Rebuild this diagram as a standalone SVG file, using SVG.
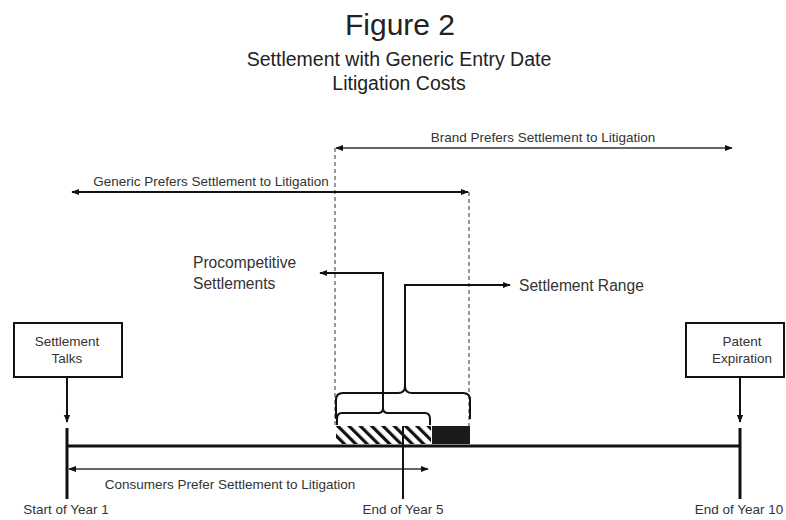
<svg xmlns="http://www.w3.org/2000/svg" width="786" height="520" viewBox="0 0 786 520">
<style>
text{font-family:"Liberation Sans",Arial,sans-serif;fill:#222}
.small{font-size:13.5px;fill:#333}
.mid{font-size:15.6px;fill:#333}
.box{fill:#fff;stroke:#111;stroke-width:2}
.thick{stroke:#111;stroke-width:3;fill:none}
.med{stroke:#111;stroke-width:2;fill:none}
.thin{stroke:#333;stroke-width:1.5;fill:none}
.dash{stroke:#333;stroke-width:1;stroke-dasharray:4 3;fill:none}
</style>
<defs>
<marker id="ah" viewBox="0 0 10 10" refX="9" refY="5" markerWidth="8" markerHeight="8" markerUnits="userSpaceOnUse" orient="auto-start-reverse">
<path d="M0,1 L10,5 L0,9 Z" fill="#111"/>
</marker>
<pattern id="hatch" width="8" height="8" patternUnits="userSpaceOnUse" patternTransform="rotate(-45)">
<rect width="8" height="8" fill="#fff"/>
<rect x="0" y="0" width="3.2" height="8" fill="#111"/>
</pattern>
</defs>
<rect width="786" height="520" fill="#fff"/>
<g id="title">
<text x="400" y="35" font-size="30" text-anchor="middle">Figure 2</text>
<text x="399" y="66" font-size="19.5" text-anchor="middle">Settlement with Generic Entry Date</text>
<text x="399" y="90" font-size="19.5" text-anchor="middle">Litigation Costs</text>
</g>
<g id="connectors">
<line class="dash" x1="335" y1="148" x2="335" y2="426"/>
<line class="dash" x1="469" y1="192" x2="469" y2="426"/>
<line class="thin" x1="336" y1="148" x2="732" y2="148" marker-start="url(#ah)" marker-end="url(#ah)"/>
<line class="med" x1="72" y1="192" x2="468" y2="192" marker-start="url(#ah)" marker-end="url(#ah)"/>
<polyline class="med" points="383,409 383,273 320,273" marker-end="url(#ah)"/>
<polyline class="med" points="405,386 405,285 510,285" marker-end="url(#ah)"/>
<path class="med" d="M336,419 V400 Q336,393 343,393 H398 Q405,393 405,386 Q405,393 412,393 H463 Q470,393 470,400 V419"/>
<path class="med" d="M337,425 V419 Q337,413 342,413 H378 Q383,413 383,408 Q383,413 388,413 H425 Q430,413 430,419 V425"/>
<line class="thick" x1="67" y1="446" x2="740" y2="446"/>
<line class="thick" x1="67" y1="428" x2="67" y2="499"/>
<line class="thick" x1="740" y1="428" x2="740" y2="499"/>
<line class="med" x1="67" y1="377" x2="67" y2="422" marker-end="url(#ah)"/>
<line class="med" x1="740" y1="377" x2="740" y2="422" marker-end="url(#ah)"/>
<line class="thin" x1="69" y1="469" x2="428" y2="469" marker-start="url(#ah)" marker-end="url(#ah)"/>
</g>
<g id="bars">
<rect x="336" y="426" width="95" height="18" fill="url(#hatch)"/>
<rect x="432" y="426" width="38" height="18" fill="#1a1a1a"/>
<line class="med" x1="403" y1="426" x2="403" y2="499"/>
</g>
<g id="labels">
<text class="small" x="543" y="142" text-anchor="middle">Brand Prefers Settlement to Litigation</text>
<text class="small" x="211" y="186" text-anchor="middle">Generic Prefers Settlement to Litigation</text>
<text class="mid" x="193" y="268">Procompetitive</text>
<text class="mid" x="193" y="289">Settlements</text>
<text class="mid" x="519" y="291">Settlement Range</text>
<text class="small" x="230" y="489" text-anchor="middle">Consumers Prefer Settlement to Litigation</text>
<text class="small" x="66" y="514" text-anchor="middle">Start of Year 1</text>
<text class="small" x="403" y="514" text-anchor="middle">End of Year 5</text>
<text class="small" x="739" y="514" text-anchor="middle">End of Year 10</text>
</g>
<g id="settlement-talks">
<rect class="box" x="14" y="323" width="108" height="54"/>
<text class="small" x="67" y="346" text-anchor="middle">Settlement</text>
<text class="small" x="67" y="363" text-anchor="middle">Talks</text>
</g>
<g id="patent-expiration">
<rect class="box" x="686" y="323" width="98" height="54"/>
<text class="small" x="742" y="346" text-anchor="middle">Patent</text>
<text class="small" x="742" y="363" text-anchor="middle">Expiration</text>
</g>
</svg>
